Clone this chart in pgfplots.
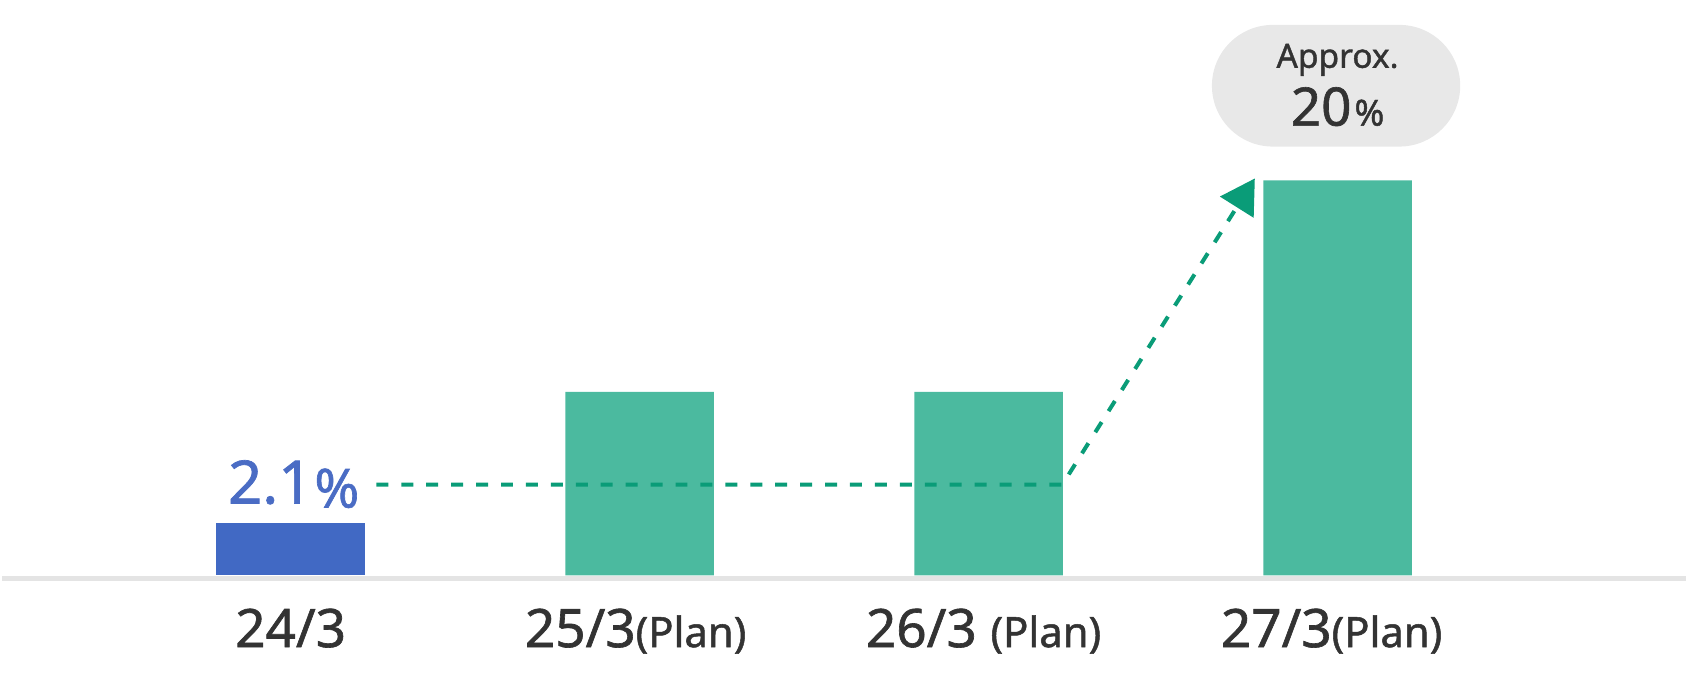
\documentclass[border=0pt]{standalone}
\usepackage{pgfplots}
\pgfplotsset{compat=1.18}
\usepackage{fontspec}
\setmainfont{Noto Sans}[FakeBold=1.2]
\usetikzlibrary{arrows.meta}
\definecolor{barblue}{HTML}{4169C4}
\definecolor{textblue}{HTML}{4A6CC4}
\definecolor{bargreen}{HTML}{4BBA9F}
\definecolor{arrowgreen}{HTML}{0A9C78}
\definecolor{textdark}{HTML}{333333}
\definecolor{linegray}{HTML}{E4E4E4}
\definecolor{pillgray}{HTML}{E8E8E8}
\begin{document}
\begin{tikzpicture}
\begin{axis}[
  scale only axis, width=844pt, height=340.5pt,
  xmin=-0.8257, xmax=3.9971, ymin=-5.2525, ymax=29.141,
  hide axis, clip=false]
\path (rel axis cs:0,0) rectangle (rel axis cs:1,1);
% base line
\draw[linegray, line width=2.5pt] (axis cs:-0.8257,-0.15) -- (axis cs:3.9971,-0.15);
% bars
\addplot[ybar, bar width=74.5pt, bar shift=0pt, fill=barblue, draw=none] coordinates {(0,2.63)};
\addplot[ybar, bar width=74.5pt, bar shift=0pt, fill=bargreen, draw=none] coordinates {(1,9.29) (2,9.29) (3,20)};
% trend arrow
\addplot[arrowgreen, line width=2pt, dash pattern=on 6pt off 6.5pt,
  -{Triangle[length=17pt,width=19.5pt]}] coordinates {(0.2457,4.596) (2.2114,4.596) (2.7629,20.10)};
% callout
\fill[pillgray, rounded corners=30.5pt] (axis cs:2.64,21.717) rectangle (axis cs:3.3514,27.879);
\node[anchor=base, text=textdark, inner sep=0pt, font=\fontsize{16.8pt}{20pt}\selectfont\bfseries] at (axis cs:3.0,25.707) {Approx.};
\node[anchor=base, text=textdark, inner sep=0pt, font=\bfseries] at (axis cs:3.0,22.778)
  {\fontsize{26.6pt}{30pt}\selectfont 20\kern1.5pt\fontsize{18pt}{20pt}\selectfont\%};
\node[anchor=base, text=textblue, inner sep=0pt, font=\bfseries] at (axis cs:0.0086,3.636)
  {\fontsize{30pt}{34pt}\selectfont 2.1\kern1pt\fontsize{27pt}{30pt}\selectfont\raisebox{-2pt}{\%}};
% category labels
\node[anchor=base, text=textdark, inner sep=0pt, font=\fontsize{26.6pt}{30pt}\selectfont\bfseries] at (axis cs:0,-3.636) {24/3};
\node[anchor=base, text=textdark, inner sep=0pt, font=\fontsize{26.6pt}{30pt}\selectfont\bfseries] at (axis cs:0.9886,-3.636) {25/3{\fontsize{21pt}{24pt}\selectfont(Plan)}};
\node[anchor=base, text=textdark, inner sep=0pt, font=\fontsize{26.6pt}{30pt}\selectfont\bfseries] at (axis cs:1.9857,-3.636) {26/3 {\fontsize{21pt}{24pt}\selectfont(Plan)}};
\node[anchor=base, text=textdark, inner sep=0pt, font=\fontsize{26.6pt}{30pt}\selectfont\bfseries] at (axis cs:2.9829,-3.636) {27/3{\fontsize{21pt}{24pt}\selectfont(Plan)}};
\end{axis}
\end{tikzpicture}
\end{document}
